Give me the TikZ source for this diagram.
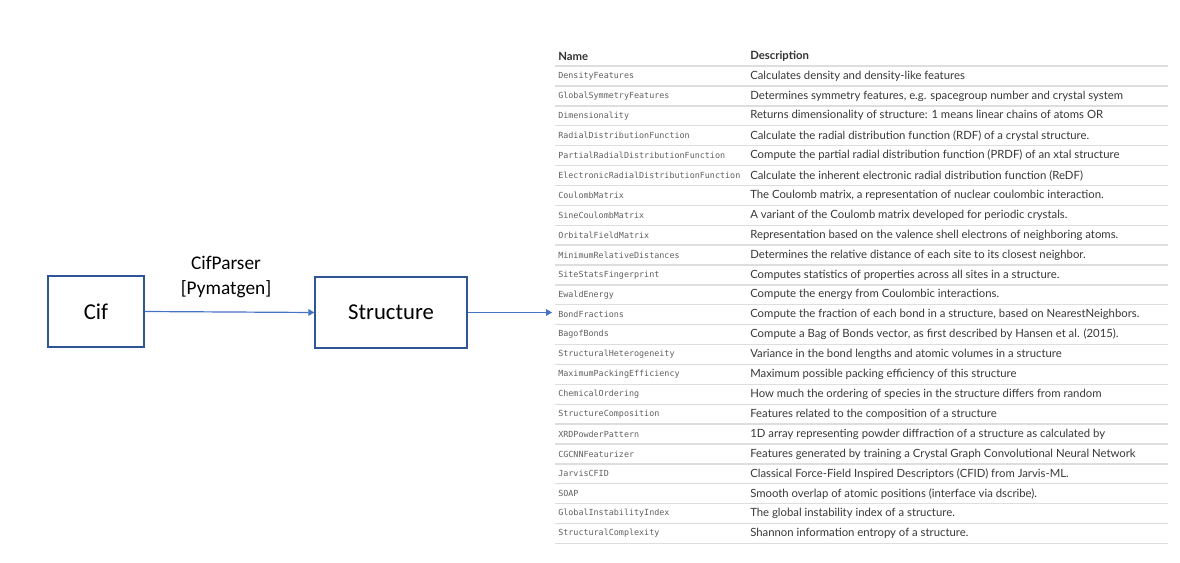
\documentclass[tikz,border=0pt]{standalone}
\usepackage{fontspec}
\setmainfont{Carlito}
\newfontfamily\descfont{Lato}
\newfontfamily\codefont{DejaVu Sans Mono}
\usetikzlibrary{arrows.meta, positioning}
\definecolor{boxblue}{RGB}{47,85,151}
\definecolor{arrowblue}{RGB}{68,114,196}
\definecolor{rulegray}{RGB}{222,222,222}
\definecolor{textgray}{RGB}{55,55,55}
\definecolor{codegray}{RGB}{95,95,95}

\tikzset{
  blockbox/.style={draw=boxblue, line width=1pt, minimum height=53.25pt, inner sep=0pt, font=\fontsize{17}{20}\selectfont},
  flowarrow/.style={draw=arrowblue, line width=0.9pt, -{Triangle[length=4.5pt,width=5pt]}},
  namecell/.style={anchor=west, inner sep=0pt, text=codegray, font=\codefont\fontsize{6.3}{7}\selectfont},
  desccell/.style={anchor=west, inner sep=0pt, text=textgray, font=\descfont\fontsize{8.5}{10}\selectfont},
  headcell/.style={anchor=west, inner sep=0pt, text=black!80, font=\descfont\bfseries\fontsize{8.5}{10}\selectfont},
  rowrule/.style={draw=rulegray, line width=1pt},
}

\begin{document}
\begin{tikzpicture}[x=0.75pt,y=0.75pt,yscale=-1,xscale=1]
\useasboundingbox (0,0) rectangle (1180,563);

% Blocks
\node [blockbox, minimum width=72pt] (cif) at (96,311.5) {Cif};
\node [blockbox, minimum width=114pt] (structure) at (391,312.5) {Structure};
\coordinate (tableentry) at (552,312.5);

% Arrows
\draw [flowarrow] (cif.east) -- (structure.west);
\draw [flowarrow] (structure.east) -- (tableentry);

% Text Node
\node [align=center, font=\fontsize{14.5}{18.75}\selectfont] (parser) at (226,277.5) {CifParser\\{[Pymatgen]}};

% Table header
\node [headcell] (namehead) at (558,56) {Name};
\node [headcell] (deschead) at (750,56) {Description};
\draw [rowrule] (555,66) -- (1168,66);

% Table rows
\foreach \nm/\dsc [count=\i] in {
  DensityFeatures/{Calculates density and density-like features},
  GlobalSymmetryFeatures/{Determines symmetry features, e.g. spacegroup number and crystal system},
  Dimensionality/{Returns dimensionality of structure: 1 means linear chains of atoms OR},
  RadialDistributionFunction/{Calculate the radial distribution function (RDF) of a crystal structure.},
  PartialRadialDistributionFunction/{Compute the partial radial distribution function (PRDF) of an xtal structure},
  ElectronicRadialDistributionFunction/{Calculate the inherent electronic radial distribution function (ReDF)},
  CoulombMatrix/{The Coulomb matrix, a representation of nuclear coulombic interaction.},
  SineCoulombMatrix/{A variant of the Coulomb matrix developed for periodic crystals.},
  OrbitalFieldMatrix/{Representation based on the valence shell electrons of neighboring atoms.},
  MinimumRelativeDistances/{Determines the relative distance of each site to its closest neighbor.},
  SiteStatsFingerprint/{Computes statistics of properties across all sites in a structure.},
  EwaldEnergy/{Compute the energy from Coulombic interactions.},
  BondFractions/{Compute the fraction of each bond in a structure, based on NearestNeighbors.},
  BagofBonds/{Compute a Bag of Bonds vector, as first described by Hansen et al. (2015).},
  StructuralHeterogeneity/{Variance in the bond lengths and atomic volumes in a structure},
  MaximumPackingEfficiency/{Maximum possible packing efficiency of this structure},
  ChemicalOrdering/{How much the ordering of species in the structure differs from random},
  StructureComposition/{Features related to the composition of a structure},
  XRDPowderPattern/{1D array representing powder diffraction of a structure as calculated by},
  CGCNNFeaturizer/{Features generated by training a Crystal Graph Convolutional Neural Network},
  JarvisCFID/{Classical Force-Field Inspired Descriptors (CFID) from Jarvis-ML.},
  SOAP/{Smooth overlap of atomic positions (interface via dscribe).},
  GlobalInstabilityIndex/{The global instability index of a structure.},
  StructuralComplexity/{Shannon information entropy of a structure.}} {
  \pgfmathsetmacro{\rowy}{76+19.89*(\i-1)}
  \node [namecell] (name\i) at (558,\rowy) {\nm};
  \node [desccell] (desc\i) at (750,\rowy) {\dsc};
  \draw [rowrule] (555,\rowy+10) -- (1168,\rowy+10);
}

\end{tikzpicture}
\end{document}
